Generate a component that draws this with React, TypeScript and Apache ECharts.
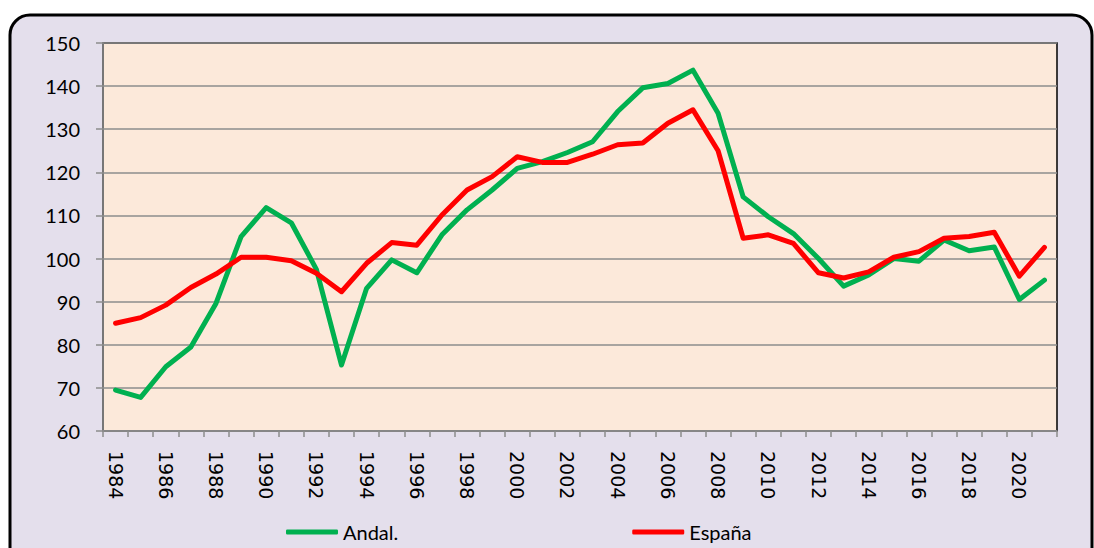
import React, { useEffect, useRef } from "react";
import * as echarts from "echarts";

const years: string[] = [];
for (let y = 1984; y <= 2021; y++) years.push(String(y));

const andalucia = [
  69.5, 67.8, 74.9, 79.5, 89.6, 105.1, 111.8, 108.3, 97.5, 75.3,
  93.1, 99.7, 96.7, 105.5, 111.3, 115.9, 120.9, 122.5, 124.6, 127.1,
  134.1, 139.6, 140.6, 143.7, 133.7, 114.3, 109.7, 105.8, 100.0, 93.6,
  96.2, 100.0, 99.4, 104.3, 101.8, 102.7, 90.5, 95.0,
];

const espana = [
  85.0, 86.3, 89.2, 93.3, 96.4, 100.3, 100.3, 99.5, 96.6, 92.3,
  98.9, 103.7, 103.1, 110.1, 115.9, 119.0, 123.6, 122.3, 122.3, 124.2,
  126.4, 126.8, 131.4, 134.5, 125.0, 104.7, 105.5, 103.5, 96.7, 95.5,
  96.9, 100.3, 101.6, 104.7, 105.1, 106.1, 95.9, 102.6,
];

const seriesNames = ["Andal.", "España"];
const seriesColors = ["#00B050", "#FF0000"];

export default function App() {
  const ref = useRef<HTMLDivElement>(null);
  useEffect(() => {
    if (!ref.current) return;
    const chart = echarts.init(ref.current, null, { renderer: "svg" });
    chart.setOption({
      animation: false,
      backgroundColor: "#ffffff",
      graphic: [
        {
          type: "rect",
          z: -10,
          silent: true,
          shape: { x: 10, y: 15, width: 1082, height: 560, r: 20 },
          style: { fill: "#E4DFEC", stroke: "#000000", lineWidth: 3 },
        },
      ],
      legend: {
        left: 286,
        top: 521,
        padding: 0,
        itemWidth: 52,
        itemHeight: 5,
        itemGap: 234,
        icon: "roundRect",
        textStyle: { fontFamily: "Lato", fontSize: 20, color: "#000", lineHeight: 22 },
        data: seriesNames,
      },
      grid: {
        left: 103,
        right: 37,
        top: 43,
        bottom: 117,
        show: true,
        backgroundColor: "#FCE9DA",
        borderColor: "#000000",
        borderWidth: 1.5,
        containLabel: false,
      },
      xAxis: {
        type: "category",
        data: years,
        boundaryGap: true,
        axisLine: { show: true, lineStyle: { color: "#8C8C8C", width: 1.5 } },
        axisTick: { show: true, interval: 0, length: 6, lineStyle: { color: "#8C8C8C", width: 1.5 } },
        axisLabel: {
          interval: 1,
          rotate: -90,
          margin: 20,
          fontFamily: "DejaVu Sans",
          fontSize: 19,
          color: "#000",
        },
        splitLine: { show: false },
      },
      yAxis: {
        type: "value",
        min: 60,
        max: 150,
        interval: 10,
        axisLine: { show: true, lineStyle: { color: "#8C8C8C", width: 1.5 } },
        axisTick: { show: true, length: 7, lineStyle: { color: "#8C8C8C", width: 1.5 } },
        axisLabel: {
          margin: 23,
          fontFamily: "Lato",
          fontSize: 20,
          color: "#000",
        },
        splitLine: { show: true, lineStyle: { color: "#8C8C8C", width: 1.5 } },
      },
      series: [
        {
          name: seriesNames[0],
          type: "line",
          data: andalucia,
          symbol: "none",
          color: seriesColors[0],
          lineStyle: { width: 5, color: seriesColors[0], cap: "round", join: "round" },
        },
        {
          name: seriesNames[1],
          type: "line",
          data: espana,
          symbol: "none",
          color: seriesColors[1],
          lineStyle: { width: 5, color: seriesColors[1], cap: "round", join: "round" },
        },
      ],
    });
    return () => chart.dispose();
  }, []);
  return (
    <div
      ref={ref}
      style={{ position: "fixed", left: 0, top: 0, width: 1094, height: 548 }}
    />
  );
}
